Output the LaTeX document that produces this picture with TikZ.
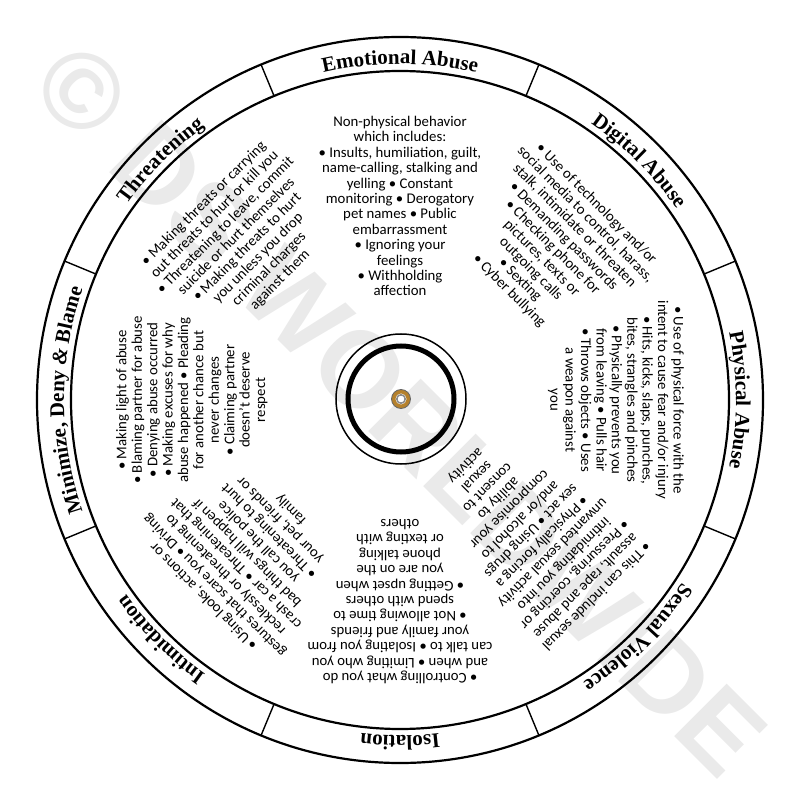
\documentclass[tikz,border=0pt]{standalone}
\usepackage{fontspec}
\setmainfont{Carlito}
\newfontfamily\bandfont{Liberation Serif}
\newfontfamily\wmfont{Liberation Sans}
\usetikzlibrary{decorations.text}
\definecolor{wmgray}{HTML}{EAEAEA}
\definecolor{grom}{HTML}{B5812C}
\newcommand\bandlabel[2]{%
  \path[decorate,decoration={text along path,text align=center,
    text={|\bandfont\bfseries\fontsize{21}{24}\selectfont|#2}}]
    ({#1+40}:336) arc[start angle={#1+40},end angle={#1-40},radius=336];}
\begin{document}
\begin{tikzpicture}[x=1pt,y=1pt,
  blk/.style={align=center,font=\fontsize{14.8}{15.4}\selectfont,inner sep=0pt,anchor=north},
  ring/.style={line width=2.2pt},
  divider/.style={line width=1.4pt}]
\useasboundingbox (-400,-400) rectangle (400,400);
\node[text=wmgray,font=\wmfont\bfseries\fontsize{108}{108}\selectfont,rotate=-45] (wm) at (0,-10) {© DS WORLDWIDE};
\draw[ring] (0,0) circle[radius=363];
\draw[ring] (0,0) circle[radius=329];
\foreach \a in {22.5,67.5,...,337.5} \draw[divider] (\a:329) -- (\a:363);
\bandlabel{90}{Emotional Abuse}
\bandlabel{45}{Digital Abuse}
\bandlabel{0}{Physical Abuse}
\bandlabel{-45}{Sexual Violence}
\bandlabel{-90}{Isolation}
\bandlabel{-135}{Intimidation}
\bandlabel{180}{Minimize, Deny {\itshape\&} Blame}
\bandlabel{135}{Threatening}
% center
\coordinate (c) at (1,1);
\draw[line width=1.5pt] (c) circle[radius=65];
\draw[line width=5pt] (c) circle[radius=53];
\fill[grom] (c) circle[radius=9.5];
\draw[black!60,line width=0.8pt] (c) circle[radius=9.5];
\fill[white] (c) circle[radius=5.5];
\draw[black!45,line width=1.6pt] (c) circle[radius=4.2];
\fill[white] (c) circle[radius=3];
% blocks
\node[blk,rotate=0] (emo) at (90:284) {Non-physical behavior\\which includes:\\• Insults, humiliation, guilt,\\name-calling, stalking and\\yelling • Constant\\monitoring • Derogatory\\pet names • Public\\embarrassment\\• Ignoring your\\feelings\\• Withholding\\affection};
\node[blk,rotate=-45] (dig) at (45:284) {• Use of technology and/or\\social media to control, harass,\\stalk, intimidate or threaten\\• Demanding passwords\\• Checking phone for\\pictures, texts or\\outgoing calls\\• Sexting\\• Cyber bullying};
\node[blk,rotate=-90] (phy) at (0:284) {• Use of physical force with the\\intent to cause fear and/or injury\\• Hits, kicks, slaps, punches,\\bites, strangles and pinches\\• Physically prevents you\\from leaving • Pulls hair\\• Throws objects • Uses\\a weapon against\\you};
\node[blk,rotate=-135] (sex) at (-45:284) {• This can include sexual\\assault, rape and abuse\\• Pressuring, coercing or\\intimidating you into\\unwanted sexual activity\\• Physically forcing a\\sex act • Using drugs\\and/or alcohol to\\compromise your\\ability to\\consent to\\sexual\\activity};
\node[blk,rotate=-180] (iso) at (-90:284) {• Controlling what you do\\and when • Limiting who you\\can talk to • Isolating you from\\your family and friends\\• Not allowing time to\\spend with others\\• Getting upset when\\you are on the\\phone talking\\or texting with\\others};
\node[blk,rotate=-225] (inti) at (-135:284) {• Using looks, actions or\\gestures that scare you • Driving\\recklessly or threatening to\\crash a car • Threatening that\\bad things will happen if\\you call the police\\• Threatening to hurt\\your pet, friends or\\family};
\node[blk,rotate=90] (mini) at (180:284) {• Making light of abuse\\• Blaming partner for abuse\\• Denying abuse occurred\\• Making excuses for why\\abuse happened • Pleading\\for another chance but\\never changes\\• Claiming partner\\doesn’t deserve\\respect};
\node[blk,rotate=45] (thr) at (135:284) {• Making threats or carrying\\out threats to hurt or kill you\\• Threatening to leave, commit\\suicide or hurt themselves\\• Making threats to hurt\\you unless you drop\\criminal charges\\against them};
\end{tikzpicture}
\end{document}
